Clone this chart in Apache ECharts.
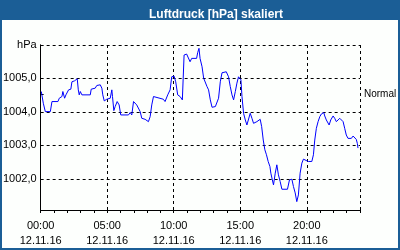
<!DOCTYPE html>
<html>
<head>
<meta charset="utf-8">
<script src="https://cdn.jsdelivr.net/npm/echarts@6/dist/echarts.min.js"></script>
<style>
html,body{margin:0;padding:0;background:#fff;}
#c{width:400px;height:250px;}
</style>
</head>
<body>
<div id="c"></div>
<script>
const titleText = 'Luftdruck [hPa] skaliert';
const dateLabel = '12.11.16';
const yTopLabel = 'hPa';
const normalLabel = 'Normal';
const normalValue = 1004.53;
const yMin = 1001.07;
const yMax = 1006;
const xTickHours = [0, 5, 10, 15, 20];

const hours = [0.05,0.20,0.35,0.73,0.85,1.30,1.40,1.60,1.67,1.80,1.90,2.10,2.27,2.35,2.55,2.65,2.75,2.83,2.90,2.98,
3.10,3.73,3.80,4.10,4.22,4.35,4.48,4.60,4.67,4.78,4.97,5.10,5.23,5.35,5.40,5.50,5.60,5.75,5.90,6.02,
6.60,6.73,6.85,6.98,7.10,7.22,7.35,7.48,7.60,7.85,8.10,8.23,8.35,8.48,8.60,9.22,9.35,9.55,9.73,9.85,
10.03,10.15,10.30,10.48,10.65,10.78,10.97,11.10,11.23,11.35,11.48,11.72,11.80,11.90,11.98,12.13,12.25,12.38,12.50,12.62,
12.75,12.88,13.00,13.13,13.25,13.37,13.50,13.63,13.75,13.95,14.12,14.25,14.38,14.50,14.63,14.75,14.87,14.95,15.05,15.13,
15.25,15.38,15.50,15.62,15.75,15.88,16.00,16.25,16.37,16.50,16.61,16.73,16.85,16.97,17.10,17.23,17.30,17.40,17.50,17.63,
17.75,17.87,18.00,18.13,18.55,18.70,18.88,19.00,19.13,19.25,19.37,19.50,19.63,19.75,19.95,20.12,20.25,20.38,20.50,20.60,
20.72,20.85,20.98,21.10,21.28,21.35,21.47,21.68,21.80,21.98,22.10,22.22,22.35,22.48,22.60,22.73,22.85,22.97,23.10,23.35,
23.48,23.60,23.72,23.80,23.85];
const pressure = [1004.61,1004.26,1004.01,1004.01,1004.31,1004.31,1004.41,1004.46,1004.61,1004.41,1004.51,1004.66,1004.68,1004.90,1004.93,1004.98,1004.99,1004.66,1004.51,1004.61,
1004.51,1004.51,1004.68,1004.71,1004.79,1004.76,1004.81,1004.71,1004.51,1004.33,1004.38,1004.33,1004.41,1004.66,1004.46,1004.04,1004.16,1004.31,1004.21,1003.91,
1003.91,1003.98,1003.91,1004.31,1004.26,1004.21,1004.16,1004.01,1003.81,1003.78,1003.71,1003.86,1004.21,1004.46,1004.41,1004.38,1004.31,1004.51,1004.66,1005.05,
1005.07,1004.90,1004.51,1004.46,1004.36,1005.70,1005.73,1005.70,1005.50,1005.60,1005.60,1005.60,1005.77,1005.90,1005.60,1005.35,1005.01,1004.96,1004.76,1004.66,
1004.36,1004.14,1004.18,1004.16,1004.11,1004.41,1004.90,1005.17,1005.22,1005.20,1005.05,1004.76,1004.51,1004.36,1004.61,1004.86,1005.05,1005.10,1004.96,1004.46,
1003.96,1003.76,1003.61,1003.66,1003.96,1003.81,1003.66,1003.71,1003.76,1003.78,1003.56,1003.16,1002.87,1002.72,1002.52,1002.37,1002.17,1001.99,1001.82,1002.17,
1002.42,1002.12,1001.92,1001.69,1001.69,1001.97,1001.99,1001.77,1001.58,1001.32,1001.52,1002.17,1002.47,1002.59,1002.55,1002.52,1002.57,1002.52,1002.72,1003.16,
1003.51,1003.71,1003.86,1003.94,1003.98,1003.88,1003.76,1003.61,1003.76,1003.88,1003.81,1003.71,1003.71,1003.81,1003.81,1003.71,1003.51,1003.31,1003.21,1003.21,
1003.28,1003.25,1003.18,1003.06,1002.92];

const seriesData = hours.map((h, i) => [h, pressure[i]]);
const FONT = '"Liberation Sans", Arial, sans-serif';
const BLUE = '#1b5e96';

const chart = echarts.init(document.getElementById('c'), null, {renderer: 'canvas'});
chart.setOption({
  animation: false,
  backgroundColor: BLUE,
  graphic: [{
    type: 'rect', z: -10, silent: true,
    shape: {x: 2, y: 20, width: 396, height: 228},
    style: {fill: '#fdfffd'}
  }],
  title: {
    text: titleText,
    left: 211, top: 3, textAlign: 'center',
    textStyle: {color: '#fff', fontFamily: FONT, fontSize: 12, fontWeight: 'bold', lineHeight: 14}
  },
  grid: {left: 40, right: 40, top: 45, bottom: 40, containLabel: false},
  xAxis: [{
    type: 'value', min: 0, max: 24, interval: 5,
    axisLine: {show: true, lineStyle: {color: '#000', width: 1}},
    axisTick: {show: false},
    axisLabel: {
      show: true, showMaxLabel: false, margin: 8, color: '#000',
      fontFamily: FONT, fontSize: 11, lineHeight: 15,
      formatter: v => (v < 10 ? '0' + v : '' + v) + ':00\n' + dateLabel
    },
    splitLine: {show: true, lineStyle: {color: '#000', type: [3, 3], width: 1}}
  }, {
    type: 'value', min: 0, max: 24, interval: 1, position: 'bottom',
    axisLine: {show: false},
    axisTick: {show: true, length: 3, lineStyle: {color: '#000'}},
    axisLabel: {show: false},
    splitLine: {show: false}
  }],
  yAxis: [{
    type: 'value', min: yMin, max: yMax, splitNumber: 5,
    axisLine: {show: true, lineStyle: {color: '#000', width: 1}},
    axisTick: {show: false},
    axisLabel: {
      showMinLabel: false, margin: 4, color: '#000', fontFamily: FONT, fontSize: 11,
      formatter: v => (Math.abs(v - yMax) < 1e-6 ? yTopLabel : v.toFixed(1).replace('.', ','))
    },
    splitLine: {show: true, lineStyle: {color: '#000', type: [3, 3], width: 1}}
  }, {
    type: 'value', min: yMin, max: yMax, position: 'right',
    axisLine: {show: true, lineStyle: {color: '#000', width: 1}},
    axisTick: {show: true, length: 3, customValues: [normalValue], lineStyle: {color: '#000'}},
    axisLabel: {
      show: true, margin: 4, customValues: [normalValue], color: '#000', fontFamily: FONT, fontSize: 10,
      formatter: () => normalLabel
    },
    splitLine: {show: false}
  }],
  series: [{
    type: 'line', xAxisIndex: 0, yAxisIndex: 0,
    data: seriesData, showSymbol: false, symbol: 'none',
    lineStyle: {color: '#0000ff', width: 1}
  }]
});
</script>
</body>
</html>
